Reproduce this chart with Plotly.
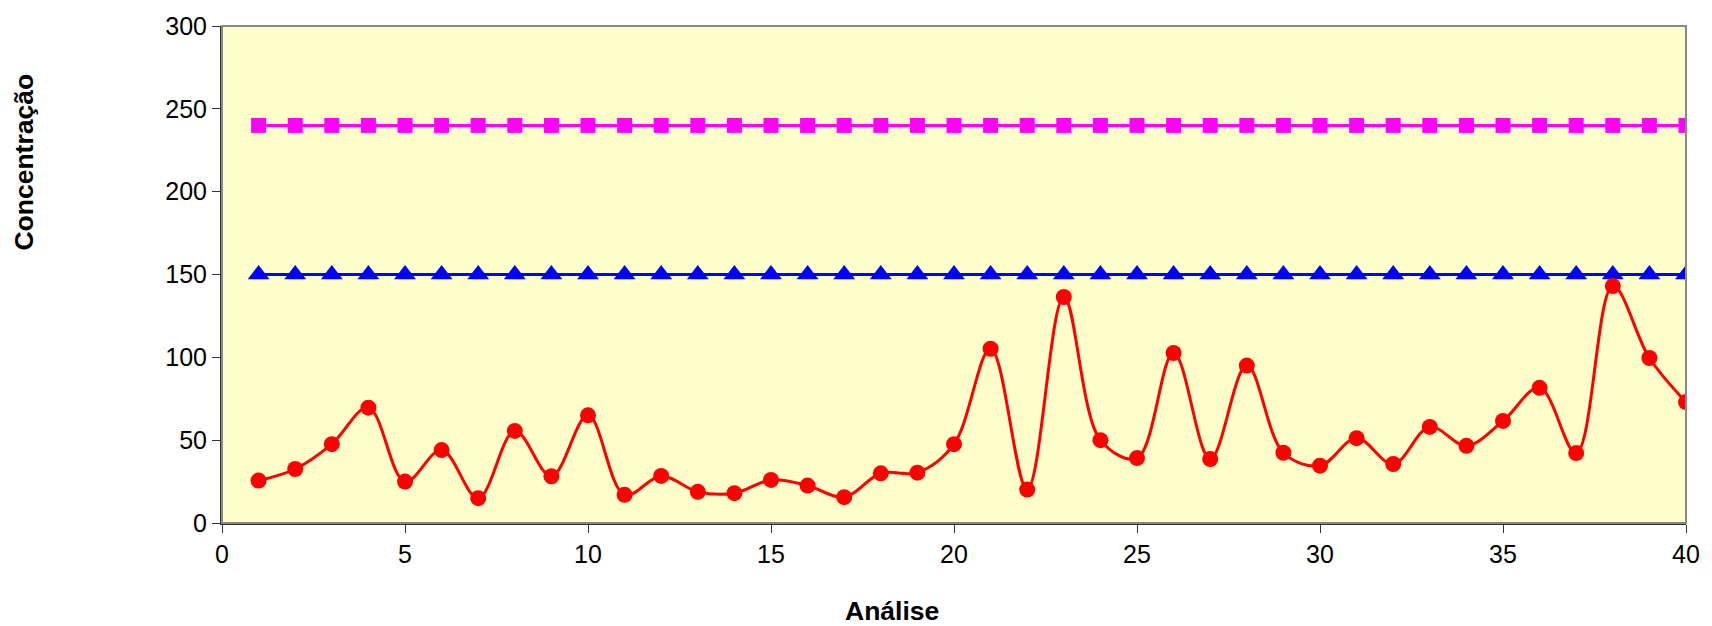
import plotly.graph_objects as go

analise = list(range(1, 41))
concentracao = [25.6, 32.6, 47.6, 69.6, 25, 44, 15, 55.6, 28.2, 65,
                17, 28.4, 18.8, 18, 26, 22.6, 15.6, 30, 30.4, 47.6,
                105.2, 20.2, 136.4, 50, 39.2, 102.6, 38.6, 95, 42.4, 34.6,
                51.2, 35.6, 58, 46.6, 61.6, 81.6, 42.2, 143, 99.6, 73]
limite_superior = [240] * 40
limite_inferior = [150] * 40

x_ticks = [0, 5, 10, 15, 20, 25, 30, 35, 40]
y_ticks = [0, 50, 100, 150, 200, 250, 300]

FONT = "Arial, Liberation Sans, sans-serif"

L, R, T, B = 222, 15, 19, 103
W, H = 1712, 626
PW, PH = W - L - R, H - T - B

fig = go.Figure()
fig.add_trace(go.Scatter(
    x=analise, y=limite_superior, mode="lines+markers",
    line=dict(color="#FF00FF", width=3),
    marker=dict(symbol="square", size=15, color="#FF00FF"),
    name="240"))
fig.add_trace(go.Scatter(
    x=analise, y=limite_inferior, mode="lines+markers",
    line=dict(color="#0000FF", width=3),
    marker=dict(symbol="triangle-up", size=19, color="#0000FF"),
    name="150"))
fig.add_trace(go.Scatter(
    x=analise, y=concentracao, mode="lines+markers",
    line=dict(color="#FF0000", width=3, shape="spline", smoothing=1.0),
    marker=dict(symbol="circle", size=16, color="#FF0000"),
    name="Concentração"))

fig.update_layout(
    width=W, height=H,
    margin=dict(l=L, r=R, t=T, b=B),
    paper_bgcolor="white",
    plot_bgcolor="#FFFFCC",
    showlegend=False,
    font=dict(family=FONT, size=25, color="black"),
    shapes=[dict(type="rect", xref="paper", yref="paper", x0=0, y0=0, x1=1, y1=1,
                 line=dict(color="#888888", width=2), layer="above")],
    annotations=[
        dict(text="<b>Análise</b>", xref="paper", yref="paper",
             x=(897 - L) / PW, y=-(612 - (H - B)) / PH, showarrow=False,
             font=dict(family=FONT, size=26.5), xanchor="center", yanchor="middle"),
        dict(text="<b>Concentração</b>", xref="paper", yref="paper",
             x=-(L - 23) / PW, y=((H - B) - 157) / PH, showarrow=False, textangle=-90,
             font=dict(family=FONT, size=26.5), xanchor="center", yanchor="middle"),
    ],
)
fig.update_xaxes(range=[0, 40], tickvals=x_ticks, ticks="outside", ticklen=8,
                 tickcolor="#333333", showgrid=False, zeroline=False,
                 showline=True, linecolor="#333333", linewidth=2)
fig.update_yaxes(range=[0, 300], tickvals=y_ticks, ticks="outside", ticklen=8,
                 tickcolor="#333333", showgrid=False, zeroline=False,
                 showline=True, linecolor="#333333", linewidth=2)

fig.write_html("out.html", config={"displayModeBar": False},
               post_script="document.body.style.margin='0';document.body.style.overflow='hidden';")
